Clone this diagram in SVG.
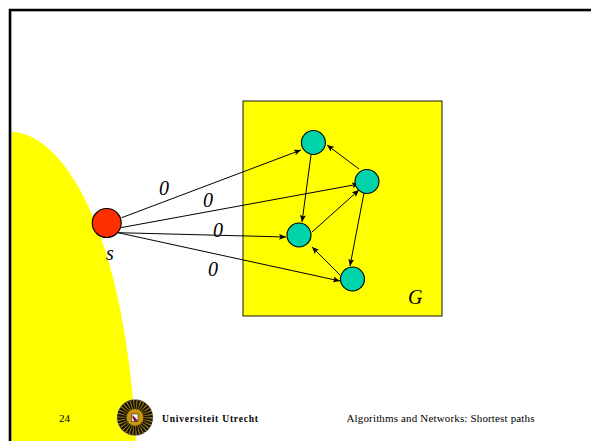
<svg xmlns="http://www.w3.org/2000/svg" width="591" height="441" viewBox="0 0 591 441">
<style>
.n{fill:#00d2aa;stroke:#000;stroke-width:1.100}
.e{stroke:#000;stroke-width:1;fill:none;marker-end:url(#a)}
text{font-family:"Liberation Serif",serif;fill:#000}
.l{font-size:20px;font-style:italic}
</style>
<defs><marker id="a" markerUnits="userSpaceOnUse" markerWidth="8" markerHeight="6" refX="7" refY="3" orient="auto"><path d="M0 0L7 3L0 6L1.500 3Z" fill="#000"/></marker></defs>
<rect width="591" height="441" fill="#fff"/>
<path d="M11 132C60 132 124 222 136 441H11Z" fill="#ff0"/>
<path d="M10 441V10H591" fill="none" stroke="#000" stroke-width="2.600"/>
<path d="M11.600 441V11.600H591" fill="none" stroke="#999" stroke-width=".6"/>
<rect x="243" y="101" width="199" height="215" fill="#ff0" stroke="#000" stroke-width=".9"/>
<g id="connectors">
<path class="e" d="M121.700 217.700L301 150"/>
<path class="e" d="M120.700 227.700L359 184"/>
<path class="e" d="M118 232.700L286 237"/>
<path class="e" d="M118 232.700L340 281"/>
<path class="e" d="M311 155L302 222"/>
<path class="e" d="M359 169L327 145"/>
<path class="e" d="M312 232L359 190"/>
<path class="e" d="M364 193L350 266"/>
<path class="e" d="M340 275L312 247"/>
</g>
<g id="s"><circle cx="106.700" cy="223" r="14.500" fill="#ff3000" stroke="#000" stroke-width="1.100"/><text class="l" x="106" y="260">s</text></g>
<g id="a1"><circle class="n" cx="313.400" cy="142.500" r="12"/></g>
<g id="a2"><circle class="n" cx="367" cy="181.500" r="12"/></g>
<g id="a3"><circle class="n" cx="299" cy="235" r="12"/></g>
<g id="a4"><circle class="n" cx="352.500" cy="279" r="12"/></g>
<text class="l" x="159" y="195">0</text>
<text class="l" x="203" y="207">0</text>
<text class="l" x="213" y="237">0</text>
<text class="l" x="208" y="276">0</text>
<text class="l" x="408" y="304">G</text>
<g id="seal">
<circle cx="135" cy="417.500" r="18" fill="#14110a" stroke="#bbb" stroke-width="1" stroke-dasharray="1.500 2"/>
<circle cx="135" cy="417.500" r="13" fill="none" stroke="#a88410" stroke-width="9" stroke-dasharray=".9 1.800"/>
<circle cx="135" cy="417.500" r="8.500" fill="#c8960c"/>
<rect x="131.500" y="414" width="6.500" height="7.500" fill="#fff" stroke="#222" stroke-width=".6"/>
<path d="M132.500 415L137.500 420V421.500H134.500L132.500 418Z" fill="#8a1030"/>
</g>
<text x="59" y="422" font-size="11">24</text>
<text x="162" y="422" font-size="9.500" font-weight="bold" textLength="96">Universiteit Utrecht</text>
<text x="346.500" y="421.500" font-size="11" textLength="188">Algorithms and Networks: Shortest paths</text>
</svg>
